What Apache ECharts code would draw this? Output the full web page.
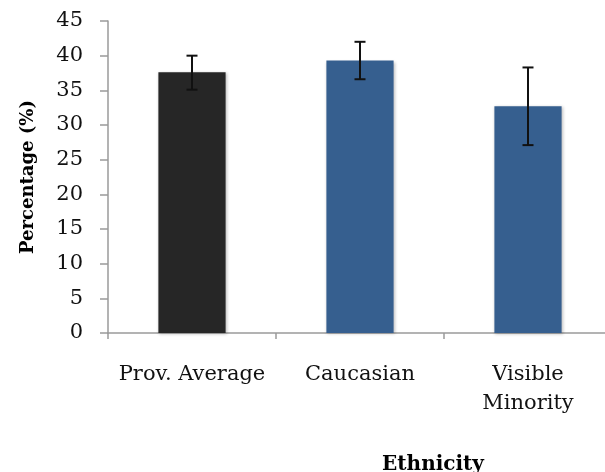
<!DOCTYPE html>
<html>
<head>
<meta charset="utf-8">
<script src="https://cdn.jsdelivr.net/npm/echarts@6/dist/echarts.min.js"></script>
<style>
html,body{margin:0;padding:0;background:#fff;}
#chart{width:605px;height:472px;}
</style>
</head>
<body>
<div id="chart"></div>
<script>
const categories = ['Prov. Average', 'Caucasian', 'Visible\nMinority'];
const percentages = [37.6, 39.3, 32.7];
const errorLow = [35.1, 36.6, 27.1];
const errorHigh = [40.0, 42.0, 38.3];
const yTicks = [0, 5, 10, 15, 20, 25, 30, 35, 40, 45];

const barColors = ['#262626', '#365F8F', '#365F8F'];
const FONT = 'DejaVu Serif';

const chart = echarts.init(document.getElementById('chart'));
chart.setOption({
  animation: false,
  grid: { left: 108, right: -7, top: 21, bottom: 139, containLabel: false, outerBoundsMode: 'none' },
  xAxis: {
    type: 'category',
    data: categories,
    name: 'Ethnicity',
    nameLocation: 'middle',
    nameGap: 122,
    nameTextStyle: { fontFamily: FONT, fontWeight: 'bold', fontSize: 20, color: '#000', padding: [0, 0, 0, 146] },
    axisLine: { lineStyle: { color: '#9a9a9a', width: 1.5 } },
    axisTick: { show: true, length: 6, lineStyle: { color: '#9a9a9a', width: 1.5 } },
    axisLabel: { fontFamily: FONT, fontSize: 21, color: '#111', margin: 27, lineHeight: 29, interval: 0 },
    splitLine: { show: false }
  },
  yAxis: {
    type: 'value',
    min: yTicks[0],
    max: yTicks[yTicks.length - 1],
    interval: 5,
    name: 'Percentage (%)',
    nameLocation: 'middle',
    nameGap: 71,
    nameRotate: 90,
    nameTextStyle: { fontFamily: FONT, fontWeight: 'bold', fontSize: 18, color: '#000' },
    axisLine: { show: true, lineStyle: { color: '#9a9a9a', width: 1.5 } },
    axisTick: { show: true, inside: false, length: 8, lineStyle: { color: '#9a9a9a', width: 1.5 } },
    axisLabel: { fontFamily: FONT, fontSize: 21, color: '#111', margin: 25 },
    splitLine: { show: false }
  },
  series: [
    {
      type: 'bar',
      data: percentages,
      barWidth: '40%',
      itemStyle: {
        color: function (p) { return barColors[p.dataIndex]; },
        shadowColor: 'rgba(0,0,0,0.25)',
        shadowBlur: 3,
        shadowOffsetX: 1,
        shadowOffsetY: 1
      }
    },
    {
      type: 'custom',
      data: categories.map(function (c, i) { return [i, errorLow[i], errorHigh[i]]; }),
      encode: { x: 0, y: [1, 2] },
      z: 10,
      renderItem: function (params, api) {
        const idx = api.value(0);
        const lo = api.coord([idx, api.value(1)]);
        const hi = api.coord([idx, api.value(2)]);
        const hw = 5.5;
        const style = { stroke: '#111', lineWidth: 2 };
        return {
          type: 'group',
          children: [
            { type: 'line', shape: { x1: hi[0], y1: hi[1], x2: lo[0], y2: lo[1] }, style: style },
            { type: 'line', shape: { x1: hi[0] - hw, y1: hi[1], x2: hi[0] + hw, y2: hi[1] }, style: style },
            { type: 'line', shape: { x1: lo[0] - hw, y1: lo[1], x2: lo[0] + hw, y2: lo[1] }, style: style }
          ]
        };
      }
    }
  ]
});
</script>
</body>
</html>
